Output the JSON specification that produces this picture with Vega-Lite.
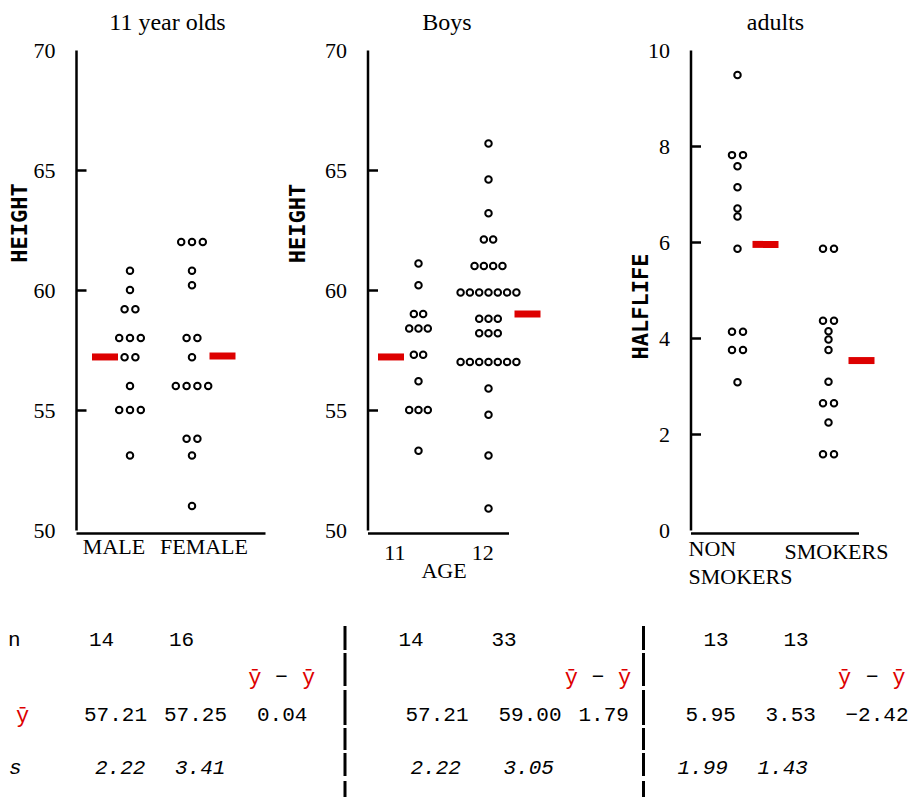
{
"$schema": "https://vega.github.io/schema/vega-lite/v6.json",
"padding": {"left": 8, "top": 11, "right": 0, "bottom": 0},
"background": "white",
"config": {
 "view": {"stroke": null},
 "axis": {"labelFont": "Liberation Serif", "labelFontSize": 22, "labelColor": "#000", "titleFont": "Liberation Serif", "titleFontSize": 22, "titleFontWeight": "normal", "titleColor": "#000", "domainColor": "#000", "domainWidth": 2.5, "tickColor": "#000", "tickWidth": 2.5, "grid": false},
 "title": {"font": "Liberation Serif", "fontSize": 24, "fontWeight": "normal", "color": "#000", "baseline": "alphabetic", "offset": 0, "frame": "group"},
 "text": {"font": "Liberation Mono", "fontSize": 21, "color": "#000"}
},
"datasets": {
 "dots": [
  {"panel":"11 year olds","group":"MALE","value":60.8},{"panel":"11 year olds","group":"MALE","value":60.0},{"panel":"11 year olds","group":"MALE","value":59.2},{"panel":"11 year olds","group":"MALE","value":59.2},{"panel":"11 year olds","group":"MALE","value":58.0},{"panel":"11 year olds","group":"MALE","value":58.0},{"panel":"11 year olds","group":"MALE","value":58.0},{"panel":"11 year olds","group":"MALE","value":57.2},{"panel":"11 year olds","group":"MALE","value":57.2},{"panel":"11 year olds","group":"MALE","value":56.0},{"panel":"11 year olds","group":"MALE","value":55.0},{"panel":"11 year olds","group":"MALE","value":55.0},{"panel":"11 year olds","group":"MALE","value":55.0},{"panel":"11 year olds","group":"MALE","value":53.1},
  {"panel":"11 year olds","group":"FEMALE","value":62.0},{"panel":"11 year olds","group":"FEMALE","value":62.0},{"panel":"11 year olds","group":"FEMALE","value":62.0},{"panel":"11 year olds","group":"FEMALE","value":60.8},{"panel":"11 year olds","group":"FEMALE","value":60.2},{"panel":"11 year olds","group":"FEMALE","value":58.0},{"panel":"11 year olds","group":"FEMALE","value":58.0},{"panel":"11 year olds","group":"FEMALE","value":57.2},{"panel":"11 year olds","group":"FEMALE","value":56.0},{"panel":"11 year olds","group":"FEMALE","value":56.0},{"panel":"11 year olds","group":"FEMALE","value":56.0},{"panel":"11 year olds","group":"FEMALE","value":56.0},{"panel":"11 year olds","group":"FEMALE","value":53.8},{"panel":"11 year olds","group":"FEMALE","value":53.8},{"panel":"11 year olds","group":"FEMALE","value":53.1},{"panel":"11 year olds","group":"FEMALE","value":51.0},
  {"panel":"Boys","group":"11","value":61.1},{"panel":"Boys","group":"11","value":60.2},{"panel":"Boys","group":"11","value":59.0},{"panel":"Boys","group":"11","value":59.0},{"panel":"Boys","group":"11","value":58.4},{"panel":"Boys","group":"11","value":58.4},{"panel":"Boys","group":"11","value":58.4},{"panel":"Boys","group":"11","value":57.3},{"panel":"Boys","group":"11","value":57.3},{"panel":"Boys","group":"11","value":56.2},{"panel":"Boys","group":"11","value":55.0},{"panel":"Boys","group":"11","value":55.0},{"panel":"Boys","group":"11","value":55.0},{"panel":"Boys","group":"11","value":53.3},
  {"panel":"Boys","group":"12","value":66.1},{"panel":"Boys","group":"12","value":64.6},{"panel":"Boys","group":"12","value":63.2},{"panel":"Boys","group":"12","value":62.1},{"panel":"Boys","group":"12","value":62.1},{"panel":"Boys","group":"12","value":61.0},{"panel":"Boys","group":"12","value":61.0},{"panel":"Boys","group":"12","value":61.0},{"panel":"Boys","group":"12","value":61.0},{"panel":"Boys","group":"12","value":59.9},{"panel":"Boys","group":"12","value":59.9},{"panel":"Boys","group":"12","value":59.9},{"panel":"Boys","group":"12","value":59.9},{"panel":"Boys","group":"12","value":59.9},{"panel":"Boys","group":"12","value":59.9},{"panel":"Boys","group":"12","value":59.9},{"panel":"Boys","group":"12","value":58.8},{"panel":"Boys","group":"12","value":58.8},{"panel":"Boys","group":"12","value":58.8},{"panel":"Boys","group":"12","value":58.2},{"panel":"Boys","group":"12","value":58.2},{"panel":"Boys","group":"12","value":58.2},{"panel":"Boys","group":"12","value":57.0},{"panel":"Boys","group":"12","value":57.0},{"panel":"Boys","group":"12","value":57.0},{"panel":"Boys","group":"12","value":57.0},{"panel":"Boys","group":"12","value":57.0},{"panel":"Boys","group":"12","value":57.0},{"panel":"Boys","group":"12","value":57.0},{"panel":"Boys","group":"12","value":55.9},{"panel":"Boys","group":"12","value":54.8},{"panel":"Boys","group":"12","value":53.1},{"panel":"Boys","group":"12","value":50.9},
  {"panel":"adults","group":"NON SMOKERS","value":9.48},{"panel":"adults","group":"NON SMOKERS","value":7.81},{"panel":"adults","group":"NON SMOKERS","value":7.81},{"panel":"adults","group":"NON SMOKERS","value":7.58},{"panel":"adults","group":"NON SMOKERS","value":7.14},{"panel":"adults","group":"NON SMOKERS","value":6.70},{"panel":"adults","group":"NON SMOKERS","value":6.53},{"panel":"adults","group":"NON SMOKERS","value":5.86},{"panel":"adults","group":"NON SMOKERS","value":4.13},{"panel":"adults","group":"NON SMOKERS","value":4.13},{"panel":"adults","group":"NON SMOKERS","value":3.75},{"panel":"adults","group":"NON SMOKERS","value":3.75},{"panel":"adults","group":"NON SMOKERS","value":3.08},
  {"panel":"adults","group":"SMOKERS","value":5.86},{"panel":"adults","group":"SMOKERS","value":5.86},{"panel":"adults","group":"SMOKERS","value":4.36},{"panel":"adults","group":"SMOKERS","value":4.36},{"panel":"adults","group":"SMOKERS","value":4.14},{"panel":"adults","group":"SMOKERS","value":3.97},{"panel":"adults","group":"SMOKERS","value":3.75},{"panel":"adults","group":"SMOKERS","value":3.09},{"panel":"adults","group":"SMOKERS","value":2.64},{"panel":"adults","group":"SMOKERS","value":2.64},{"panel":"adults","group":"SMOKERS","value":2.24},{"panel":"adults","group":"SMOKERS","value":1.58},{"panel":"adults","group":"SMOKERS","value":1.58}
 ],
 "stats": [
  {"panel":"11 year olds","group":"MALE","n":14,"mean":57.21,"sd":2.22},
  {"panel":"11 year olds","group":"FEMALE","n":16,"mean":57.25,"sd":3.41},
  {"panel":"Boys","group":"11","n":14,"mean":57.21,"sd":2.22},
  {"panel":"Boys","group":"12","n":33,"mean":59.00,"sd":3.05},
  {"panel":"adults","group":"NON SMOKERS","n":13,"mean":5.95,"sd":1.99},
  {"panel":"adults","group":"SMOKERS","n":13,"mean":3.53,"sd":1.43}
 ],
 "diffs": [
  {"panel":"11 year olds","diff":0.04},
  {"panel":"Boys","diff":1.79},
  {"panel":"adults","diff":-2.42}
 ]
},
"spacing": 36,
"resolve": {"scale": {"xOffset": "independent"}},
"vconcat": [
 {"spacing": 20.5, "resolve": {"scale": {"xOffset": "independent"}}, "hconcat": [
  {"resolve": {"scale": {"xOffset": "independent"}}, "hconcat": [
   {"width": 189, "height": 480,
    "title": {"text": "11 year olds", "dx": -3},
    "layer": [
     {"data": {"name": "dots"},
      "transform": [
       {"filter": "datum.panel === '11 year olds'"},
       {"window": [{"op": "count", "as": "one"}], "frame": [0, 0], "ignorePeers": true},
       {"stack": "one", "groupby": ["group", "value"], "offset": "center", "as": ["s0", "s1"]}
      ],
      "mark": {"type": "point", "shape": "circle", "filled": false, "size": 42, "strokeWidth": 2, "color": "#000", "opacity": 1},
      "encoding": {
       "x": {"field": "group", "type": "nominal", "sort": null,
        "scale": {"type": "band", "domain": ["MALE", "FEMALE"], "paddingInner": 0.5, "paddingOuter": 0.774, "align": 0.401},
        "axis": {"title": null, "ticks": false, "tickSize": 0, "labelAngle": 0, "labelPadding": 3, "offset": 3, "labelOverlap": false,
         "labelOffset": {"condition": {"test": "datum.value === 'MALE'", "value": -16}, "value": 12}}},
       "xOffset": {"field": "s0", "type": "quantitative", "scale": {"domain": [0, 4], "range": [-0.7, 42.5], "zero": false, "nice": false, "padding": 0}},
       "y": {"field": "value", "type": "quantitative", "scale": {"domain": [50, 70], "zero": false, "nice": false},
        "axis": {"title": "HEIGHT", "values": [50, 55, 60, 65, 70], "tickSize": -10, "labelPadding": 31, "labelOverlap": false,
         "tickOpacity": {"condition": {"test": "datum.value === 50 || datum.value === 70", "value": 0}, "value": 1},
         "titleFont": "DejaVu Sans Mono", "titleFontSize": 22, "titleFontWeight": "bold", "titleAngle": 270, "titleX": -57, "titleY": 172.5, "titleAlign": "center", "titleBaseline": "middle"}}
      }},
     {"data": {"name": "stats"}, "transform": [{"filter": "datum.panel === '11 year olds'"}],
      "mark": {"type": "tick", "orient": "horizontal", "color": "#DD0000", "thickness": 7, "size": 26, "opacity": 1,
       "xOffset": {"expr": "datum.group === 'MALE' ? -25 : 30.5"}},
      "encoding": {
       "x": {"field": "group", "type": "nominal", "sort": null,
        "axis": {"title": null, "ticks": false, "tickSize": 0, "labelAngle": 0, "labelPadding": 3, "offset": 3, "labelOverlap": false,
         "labelOffset": {"condition": {"test": "datum.value === 'MALE'", "value": -16}, "value": 12}}},
       "y": {"field": "mean", "type": "quantitative",
        "axis": {"title": "HEIGHT", "values": [50, 55, 60, 65, 70], "tickSize": -10, "labelPadding": 31, "labelOverlap": false,
         "tickOpacity": {"condition": {"test": "datum.value === 50 || datum.value === 70", "value": 0}, "value": 1},
         "titleFont": "DejaVu Sans Mono", "titleFontSize": 22, "titleFontWeight": "bold", "titleAngle": 270, "titleX": -57, "titleY": 172.5, "titleAlign": "center", "titleBaseline": "middle"}}}}
    ]}
  ]},
  {"spacing": 88, "resolve": {"scale": {"xOffset": "independent"}}, "hconcat": [
   {"width": 141, "height": 480,
    "title": {"text": "Boys", "dx": 9},
    "layer": [
     {"data": {"name": "dots"},
      "transform": [
       {"filter": "datum.panel === 'Boys'"},
       {"window": [{"op": "count", "as": "one"}], "frame": [0, 0], "ignorePeers": true},
       {"stack": "one", "groupby": ["group", "value"], "offset": "center", "as": ["s0", "s1"]}
      ],
      "mark": {"type": "point", "shape": "circle", "filled": false, "size": 42, "strokeWidth": 2, "color": "#000", "opacity": 1},
      "encoding": {
       "x": {"field": "group", "type": "nominal", "sort": null,
        "scale": {"type": "band", "domain": ["11", "12"], "paddingInner": 0.5, "paddingOuter": 0.2571, "align": 0.9306},
        "axis": {"title": "AGE", "titleX": 76, "titleY": 44.5, "titleAlign": "center", "titleBaseline": "alphabetic", "ticks": false, "tickSize": 0, "labelAngle": 0, "labelPadding": 9, "offset": 3, "labelOverlap": false,
         "labelOffset": {"condition": {"test": "datum.value === '11'", "value": -23.7}, "value": -5.7}}},
       "xOffset": {"field": "s0", "type": "quantitative", "scale": {"domain": [0, 7], "range": [-10.4, 54.7], "zero": false, "nice": false, "padding": 0}},
       "y": {"field": "value", "type": "quantitative", "scale": {"domain": [50, 70], "zero": false, "nice": false},
        "axis": {"title": "HEIGHT", "values": [50, 55, 60, 65, 70], "tickSize": -10, "labelPadding": 31, "labelOverlap": false,
         "tickOpacity": {"condition": {"test": "datum.value === 50 || datum.value === 70", "value": 0}, "value": 1},
         "titleFont": "DejaVu Sans Mono", "titleFontSize": 22, "titleFontWeight": "bold", "titleAngle": 270, "titleX": -70.3, "titleY": 173, "titleAlign": "center", "titleBaseline": "middle"}}
      }},
     {"data": {"name": "stats"}, "transform": [{"filter": "datum.panel === 'Boys'"}],
      "mark": {"type": "tick", "orient": "horizontal", "color": "#DD0000", "thickness": 7, "size": 26, "opacity": 1,
       "xOffset": {"expr": "datum.group === '11' ? -27.5 : 39"}},
      "encoding": {
       "x": {"field": "group", "type": "nominal", "sort": null,
        "axis": {"title": "AGE", "titleX": 76, "titleY": 44.5, "titleAlign": "center", "titleBaseline": "alphabetic", "ticks": false, "tickSize": 0, "labelAngle": 0, "labelPadding": 9, "offset": 3, "labelOverlap": false,
         "labelOffset": {"condition": {"test": "datum.value === '11'", "value": -23.7}, "value": -5.7}}},
       "y": {"field": "mean", "type": "quantitative",
        "axis": {"title": "HEIGHT", "values": [50, 55, 60, 65, 70], "tickSize": -10, "labelPadding": 31, "labelOverlap": false,
         "tickOpacity": {"condition": {"test": "datum.value === 50 || datum.value === 70", "value": 0}, "value": 1},
         "titleFont": "DejaVu Sans Mono", "titleFontSize": 22, "titleFontWeight": "bold", "titleAngle": 270, "titleX": -70.3, "titleY": 173, "titleAlign": "center", "titleBaseline": "middle"}}}}
    ]},
   {"width": 168, "height": 480,
    "title": {"text": "adults", "dx": 1},
    "layer": [
     {"data": {"name": "dots"},
      "transform": [
       {"filter": "datum.panel === 'adults'"},
       {"window": [{"op": "count", "as": "one"}], "frame": [0, 0], "ignorePeers": true},
       {"stack": "one", "groupby": ["group", "value"], "offset": "center", "as": ["s0", "s1"]}
      ],
      "mark": {"type": "point", "shape": "circle", "filled": false, "size": 42, "strokeWidth": 2, "color": "#000", "opacity": 1},
      "encoding": {
       "x": {"field": "group", "type": "nominal", "sort": null,
        "scale": {"type": "band", "domain": ["NON SMOKERS", "SMOKERS"], "paddingInner": 0.5, "paddingOuter": 0.1731, "align": 0.7698},
        "axis": {"title": null, "ticks": false, "tickSize": 0, "labelAngle": 0, "offset": 3, "labelOverlap": false, "labelAlign": "left", "labelLineHeight": 28,
         "labelExpr": "datum.value === 'NON SMOKERS' ? ['NON', 'SMOKERS'] : datum.value",
         "labelPadding": {"condition": {"test": "datum.value === 'SMOKERS'", "value": 8.5}, "value": 5.5},
         "labelOffset": {"condition": {"test": "datum.value === 'NON SMOKERS'", "value": -49}, "value": -44}}},
       "xOffset": {"field": "s0", "type": "quantitative", "scale": {"domain": [0, 2], "range": [17.25, 39.25], "zero": false, "nice": false, "padding": 0}},
       "y": {"field": "value", "type": "quantitative", "scale": {"domain": [0, 10], "zero": false, "nice": false},
        "axis": {"title": "HALFLIFE", "values": [0, 2, 4, 6, 8, 10], "tickSize": -10, "labelPadding": 31, "labelOverlap": false,
         "tickOpacity": {"condition": {"test": "datum.value === 0 || datum.value === 10", "value": 0}, "value": 1},
         "titleFont": "DejaVu Sans Mono", "titleFontSize": 22, "titleFontWeight": "bold", "titleAngle": 270, "titleX": -50, "titleY": 256, "titleAlign": "center", "titleBaseline": "middle"}}
      }},
     {"data": {"name": "stats"}, "transform": [{"filter": "datum.panel === 'adults'"}],
      "mark": {"type": "tick", "orient": "horizontal", "color": "#DD0000", "thickness": 7, "size": 26, "opacity": 1,
       "xOffset": {"expr": "datum.group === 'NON SMOKERS' ? 28 : 33"}},
      "encoding": {
       "x": {"field": "group", "type": "nominal", "sort": null,
        "axis": {"title": null, "ticks": false, "tickSize": 0, "labelAngle": 0, "offset": 3, "labelOverlap": false, "labelAlign": "left", "labelLineHeight": 28,
         "labelExpr": "datum.value === 'NON SMOKERS' ? ['NON', 'SMOKERS'] : datum.value",
         "labelPadding": {"condition": {"test": "datum.value === 'SMOKERS'", "value": 8.5}, "value": 5.5},
         "labelOffset": {"condition": {"test": "datum.value === 'NON SMOKERS'", "value": -49}, "value": -44}}},
       "y": {"field": "mean", "type": "quantitative",
        "axis": {"title": "HALFLIFE", "values": [0, 2, 4, 6, 8, 10], "tickSize": -10, "labelPadding": 31, "labelOverlap": false,
         "tickOpacity": {"condition": {"test": "datum.value === 0 || datum.value === 10", "value": 0}, "value": 1},
         "titleFont": "DejaVu Sans Mono", "titleFontSize": 22, "titleFontWeight": "bold", "titleAngle": 270, "titleX": -50, "titleY": 256, "titleAlign": "center", "titleBaseline": "middle"}}}}
    ]}
  ]}
 ]},
 {"spacing": 0, "hconcat": [
  {"width": 269, "height": 174,
   "layer": [
    {"data": {"values": [{}]}, "mark": {"type": "rule", "orient": "vertical", "strokeWidth": 3, "color": "#000", "strokeDash": [24, 3, 33, 4, 35, 3, 22, 3, 23, 5, 60, 10]}, "encoding": {"x": {"value": "width"}}},
    {"data": {"values": [{}]}, "mark": {"type": "text", "text": "n", "align": "left", "baseline": "middle", "dx": 4},
     "encoding": {"x": {"datum": "L", "type": "nominal", "scale": {"type": "point", "domain": ["L", "MALE", "FEMALE", "D"], "range": [-72, 168], "padding": 0}, "axis": null},
      "y": {"datum": "n", "type": "nominal", "scale": {"type": "point", "domain": ["n", "hdr", "mean", "s"], "range": [13.7, 126.2], "padding": 0}, "axis": null}}},
    {"data": {"values": [{}]}, "mark": {"type": "text", "text": "ȳ", "align": "left", "baseline": "middle", "dx": 12, "color": "#DD0000", "fontSize": 22},
     "encoding": {"x": {"datum": "L", "type": "nominal", "axis": null}, "y": {"datum": "mean", "type": "nominal", "axis": null}}},
    {"data": {"values": [{}]}, "mark": {"type": "text", "text": "s", "align": "left", "baseline": "middle", "dx": 5, "dy": 15.3, "fontStyle": "italic"},
     "encoding": {"x": {"datum": "L", "type": "nominal", "axis": null}, "y": {"datum": "s", "type": "nominal", "axis": null}}},
    {"data": {"name": "stats"}, "transform": [{"filter": "datum.panel === '11 year olds'"}],
     "mark": {"type": "text", "align": "left", "baseline": "middle", "dx": 5},
     "encoding": {"x": {"field": "group", "type": "nominal", "axis": null}, "y": {"datum": "n", "type": "nominal", "axis": null}, "text": {"field": "n", "type": "quantitative"}}},
    {"data": {"name": "stats"}, "transform": [{"filter": "datum.panel === '11 year olds'"}],
     "mark": {"type": "text", "align": "left", "baseline": "middle", "dx": 0},
     "encoding": {"x": {"field": "group", "type": "nominal", "axis": null}, "y": {"datum": "mean", "type": "nominal", "axis": null}, "text": {"field": "mean", "type": "quantitative", "format": ".2f"}}},
    {"data": {"name": "stats"}, "transform": [{"filter": "datum.panel === '11 year olds'"}],
     "mark": {"type": "text", "align": "left", "baseline": "middle", "dx": 11, "dy": 15.3, "fontStyle": "italic"},
     "encoding": {"x": {"field": "group", "type": "nominal", "axis": null}, "y": {"datum": "s", "type": "nominal", "axis": null}, "text": {"field": "sd", "type": "quantitative", "format": ".2f"}}},
    {"data": {"values": [{}]}, "mark": {"type": "text", "text": "ȳ", "align": "center", "baseline": "middle", "dx": 10.8, "color": "#DD0000", "fontSize": 22},
     "encoding": {"x": {"datum": "D", "type": "nominal", "axis": null}, "y": {"datum": "hdr", "type": "nominal", "axis": null}}},
    {"data": {"values": [{}]}, "mark": {"type": "text", "text": "−", "align": "center", "baseline": "middle", "dx": 37.5},
     "encoding": {"x": {"datum": "D", "type": "nominal", "axis": null}, "y": {"datum": "hdr", "type": "nominal", "axis": null}}},
    {"data": {"values": [{}]}, "mark": {"type": "text", "text": "ȳ", "align": "center", "baseline": "middle", "dx": 64.7, "color": "#DD0000", "fontSize": 22},
     "encoding": {"x": {"datum": "D", "type": "nominal", "axis": null}, "y": {"datum": "hdr", "type": "nominal", "axis": null}}},
    {"data": {"name": "diffs"}, "transform": [{"filter": "datum.panel === '11 year olds'"}],
     "mark": {"type": "text", "align": "left", "baseline": "middle", "dx": 13},
     "encoding": {"x": {"datum": "D", "type": "nominal", "axis": null}, "y": {"datum": "mean", "type": "nominal", "axis": null}, "text": {"field": "diff", "type": "quantitative", "format": ".2f"}}}
   ]},
  {"width": 296.5, "height": 174,
   "layer": [
    {"data": {"values": [{}]}, "mark": {"type": "rule", "orient": "vertical", "strokeWidth": 3, "color": "#000", "strokeDash": [24, 3, 33, 4, 35, 3, 22, 3, 23, 5, 60, 10]}, "encoding": {"x": {"value": "width"}}},
    {"data": {"name": "stats"}, "transform": [{"filter": "datum.panel === 'Boys'"}],
     "mark": {"type": "text", "align": "left", "baseline": "middle", "dx": -7},
     "encoding": {"x": {"field": "group", "type": "nominal", "scale": {"type": "point", "domain": ["11", "12", "D"], "range": [58.5, 244.5], "padding": 0}, "axis": null},
      "y": {"datum": "n", "type": "nominal", "scale": {"type": "point", "domain": ["n", "hdr", "mean", "s"], "range": [13.7, 126.2], "padding": 0}, "axis": null}, "text": {"field": "n", "type": "quantitative"}}},
    {"data": {"name": "stats"}, "transform": [{"filter": "datum.panel === 'Boys'"}],
     "mark": {"type": "text", "align": "left", "baseline": "middle", "dx": 0},
     "encoding": {"x": {"field": "group", "type": "nominal", "axis": null}, "y": {"datum": "mean", "type": "nominal", "axis": null}, "text": {"field": "mean", "type": "quantitative", "format": ".2f"}}},
    {"data": {"name": "stats"}, "transform": [{"filter": "datum.panel === 'Boys'"}],
     "mark": {"type": "text", "align": "left", "baseline": "middle", "dx": 5, "dy": 15.3, "fontStyle": "italic"},
     "encoding": {"x": {"field": "group", "type": "nominal", "axis": null}, "y": {"datum": "s", "type": "nominal", "axis": null}, "text": {"field": "sd", "type": "quantitative", "format": ".2f"}}},
    {"data": {"values": [{}]}, "mark": {"type": "text", "text": "ȳ", "align": "center", "baseline": "middle", "dx": -20.2, "color": "#DD0000", "fontSize": 22},
     "encoding": {"x": {"datum": "D", "type": "nominal", "axis": null}, "y": {"datum": "hdr", "type": "nominal", "axis": null}}},
    {"data": {"values": [{}]}, "mark": {"type": "text", "text": "−", "align": "center", "baseline": "middle", "dx": 6.5},
     "encoding": {"x": {"datum": "D", "type": "nominal", "axis": null}, "y": {"datum": "hdr", "type": "nominal", "axis": null}}},
    {"data": {"values": [{}]}, "mark": {"type": "text", "text": "ȳ", "align": "center", "baseline": "middle", "dx": 33.2, "color": "#DD0000", "fontSize": 22},
     "encoding": {"x": {"datum": "D", "type": "nominal", "axis": null}, "y": {"datum": "hdr", "type": "nominal", "axis": null}}},
    {"data": {"name": "diffs"}, "transform": [{"filter": "datum.panel === 'Boys'"}],
     "mark": {"type": "text", "align": "left", "baseline": "middle", "dx": -13},
     "encoding": {"x": {"datum": "D", "type": "nominal", "axis": null}, "y": {"datum": "mean", "type": "nominal", "axis": null}, "text": {"field": "diff", "type": "quantitative", "format": ".2f"}}}
   ]},
  {"width": 268.5, "height": 174,
   "layer": [
    {"data": {"name": "stats"}, "transform": [{"filter": "datum.panel === 'adults'"}],
     "mark": {"type": "text", "align": "left", "baseline": "middle", "dx": 18},
     "encoding": {"x": {"field": "group", "type": "nominal", "scale": {"type": "point", "domain": ["NON SMOKERS", "SMOKERS", "D"], "range": [40.5, 200.5], "padding": 0}, "axis": null},
      "y": {"datum": "n", "type": "nominal", "scale": {"type": "point", "domain": ["n", "hdr", "mean", "s"], "range": [13.7, 126.2], "padding": 0}, "axis": null}, "text": {"field": "n", "type": "quantitative"}}},
    {"data": {"name": "stats"}, "transform": [{"filter": "datum.panel === 'adults'"}],
     "mark": {"type": "text", "align": "left", "baseline": "middle", "dx": 0},
     "encoding": {"x": {"field": "group", "type": "nominal", "axis": null}, "y": {"datum": "mean", "type": "nominal", "axis": null}, "text": {"field": "mean", "type": "quantitative", "format": ".2f"}}},
    {"data": {"name": "stats"}, "transform": [{"filter": "datum.panel === 'adults'"}],
     "mark": {"type": "text", "align": "left", "baseline": "middle", "dx": -8, "dy": 15.3, "fontStyle": "italic"},
     "encoding": {"x": {"field": "group", "type": "nominal", "axis": null}, "y": {"datum": "s", "type": "nominal", "axis": null}, "text": {"field": "sd", "type": "quantitative", "format": ".2f"}}},
    {"data": {"values": [{}]}, "mark": {"type": "text", "text": "ȳ", "align": "center", "baseline": "middle", "dx": -0.8, "color": "#DD0000", "fontSize": 22},
     "encoding": {"x": {"datum": "D", "type": "nominal", "axis": null}, "y": {"datum": "hdr", "type": "nominal", "axis": null}}},
    {"data": {"values": [{}]}, "mark": {"type": "text", "text": "−", "align": "center", "baseline": "middle", "dx": 26.7},
     "encoding": {"x": {"datum": "D", "type": "nominal", "axis": null}, "y": {"datum": "hdr", "type": "nominal", "axis": null}}},
    {"data": {"values": [{}]}, "mark": {"type": "text", "text": "ȳ", "align": "center", "baseline": "middle", "dx": 53.3, "color": "#DD0000", "fontSize": 22},
     "encoding": {"x": {"datum": "D", "type": "nominal", "axis": null}, "y": {"datum": "hdr", "type": "nominal", "axis": null}}},
    {"data": {"name": "diffs"}, "transform": [{"filter": "datum.panel === 'adults'"}],
     "mark": {"type": "text", "align": "left", "baseline": "middle", "dx": 0},
     "encoding": {"x": {"datum": "D", "type": "nominal", "axis": null}, "y": {"datum": "mean", "type": "nominal", "axis": null}, "text": {"field": "diff", "type": "quantitative", "format": ".2f"}}}
   ]}
 ]}
]
}
